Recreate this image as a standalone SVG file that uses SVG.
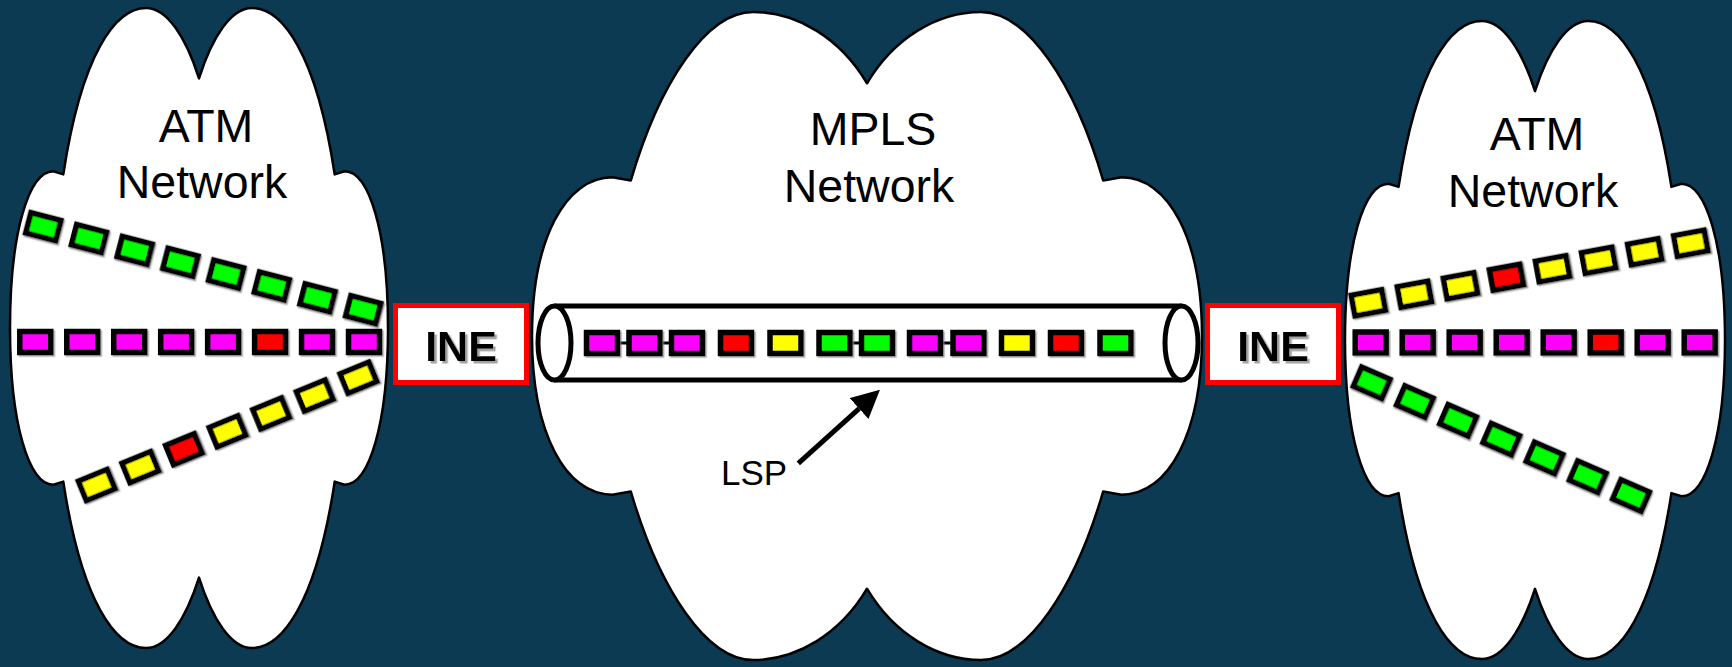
<svg xmlns="http://www.w3.org/2000/svg" width="1732" height="667" viewBox="0 0 1732 667">
  <defs>
    <style>
      .cloud{fill:#fff;stroke:#000;stroke-width:2.5;vector-effect:non-scaling-stroke;stroke-linejoin:round}
      .lbl{font-family:"Liberation Sans",Arial,sans-serif;font-size:46.5px;fill:#000;text-anchor:middle}
      .lsp{font-family:"Liberation Sans",Arial,sans-serif;font-size:35px;fill:#000}
      .pk{stroke:#000;stroke-width:5.5;filter:url(#sh)}
      .m{fill:#f0f}.g{fill:#0f0}.y{fill:#ff0}.r{fill:#f00}
      .ine rect{fill:#fff;stroke:#f00;stroke-width:5}
      .ine text{font-family:"Liberation Sans",Arial,sans-serif;font-weight:bold;font-size:43px;text-anchor:middle;fill:#000;filter:url(#tsh)}
      .tube{fill:#fff;stroke:#000;stroke-width:5}
      .tube-edge{fill:none;stroke:#000;stroke-width:5}
      .link{stroke:#000;stroke-width:3}
      .arrow{stroke:#000;stroke-width:5;fill:none}
    </style>
    <filter id="sh" x="-20%" y="-30%" width="150%" height="170%">
      <feDropShadow dx="1.5" dy="1.5" stdDeviation="0.4" flood-color="#808080" flood-opacity="0.7"/>
    </filter>
    <filter id="tsh" x="-10%" y="-10%" width="130%" height="140%">
      <feDropShadow dx="2.5" dy="2.5" stdDeviation="0.6" flood-color="#999" flood-opacity="0.9"/>
    </filter>
    <marker id="ah" markerUnits="userSpaceOnUse" markerWidth="28" markerHeight="28" viewBox="0 0 28 28" refX="0" refY="14" orient="auto">
      <path d="M0,0 L28,14 L0,28 Z" fill="#000"/>
    </marker>
    <!-- unit clouds, 200 x 200 around the origin -->
    <path id="cloudA" class="cloud" d="M0,-78 C-7,-91 -17,-100 -28,-100 C-44,-100 -62,-86 -71.8,-48 L-77,-49 C-90,-49 -100,-30 -100,0 C-100,30 -90,49 -77,49 L-71.8,48 C-62,86 -44,100 -28,100 C-17,100 -7,91 0,78 C7,91 17,100 28,100 C44,100 62,86 71.8,48 L77,49 C90,49 100,30 100,0 C100,-30 90,-49 77,-49 L71.8,-48 C62,-86 44,-100 28,-100 C17,-100 7,-91 0,-78 Z"/>
    <path id="cloudB" class="cloud" d="M0,-78 C-8,-92 -21,-100 -34,-100 C-48,-100 -62,-78 -70.5,-48 L-76,-49 C-90,-49 -100,-30 -100,0 C-100,30 -90,49 -76,49 L-70.5,48 C-62,78 -48,100 -34,100 C-21,100 -8,92 0,78 C8,92 21,100 34,100 C48,100 62,78 70.5,48 L76,49 C90,49 100,30 100,0 C100,-30 90,-49 76,-49 L70.5,-48 C62,-78 48,-100 34,-100 C21,-100 8,-92 0,-78 Z"/>
  </defs>

  <rect width="1732" height="667" fill="#0c3a53"/>

  <!-- left ATM network -->
  <g id="atm-left">
    <use href="#cloudA" transform="translate(199,328) scale(1.89,3.20)"/>
    <text class="lbl" x="206" y="142">ATM</text>
    <text class="lbl" x="202" y="198">Network</text>
    <g transform="translate(43.3,226.7) rotate(14.54)">
      <rect class="pk g" x="-15.5" y="-10.5" width="31" height="21"/>
      <rect class="pk g" x="31.72" y="-10.5" width="31" height="21"/>
      <rect class="pk g" x="78.94" y="-10.5" width="31" height="21"/>
      <rect class="pk g" x="126.16" y="-10.5" width="31" height="21"/>
      <rect class="pk g" x="173.38" y="-10.5" width="31" height="21"/>
      <rect class="pk g" x="220.6" y="-10.5" width="31" height="21"/>
      <rect class="pk g" x="267.82" y="-10.5" width="31" height="21"/>
      <rect class="pk g" x="315.04" y="-10.5" width="31" height="21"/>
    </g>
    <g transform="translate(35.3,342)">
      <rect class="pk m" x="-15.5" y="-10.5" width="31" height="21"/>
      <rect class="pk m" x="31.46" y="-10.5" width="31" height="21"/>
      <rect class="pk m" x="78.42" y="-10.5" width="31" height="21"/>
      <rect class="pk m" x="125.38" y="-10.5" width="31" height="21"/>
      <rect class="pk m" x="172.34" y="-10.5" width="31" height="21"/>
      <rect class="pk r" x="219.3" y="-10.5" width="31" height="21"/>
      <rect class="pk m" x="266.26" y="-10.5" width="31" height="21"/>
      <rect class="pk m" x="313.22" y="-10.5" width="31" height="21"/>
    </g>
    <g transform="translate(96.7,485) rotate(-22.3)">
      <rect class="pk y" x="-15.5" y="-10.5" width="31" height="21"/>
      <rect class="pk y" x="31.63" y="-10.5" width="31" height="21"/>
      <rect class="pk r" x="78.76" y="-10.5" width="31" height="21"/>
      <rect class="pk y" x="125.89" y="-10.5" width="31" height="21"/>
      <rect class="pk y" x="173.02" y="-10.5" width="31" height="21"/>
      <rect class="pk y" x="220.15" y="-10.5" width="31" height="21"/>
      <rect class="pk y" x="267.28" y="-10.5" width="31" height="21"/>
    </g>
  </g>

  <!-- MPLS core -->
  <g id="mpls">
    <use href="#cloudB" transform="translate(867,336) scale(3.35,3.24)"/>
    <text class="lbl" x="873" y="145">MPLS</text>
    <text class="lbl" x="869" y="202">Network</text>
  </g>

  <!-- label switched path with its packets -->
  <g id="lsp-tube">
    <rect x="554.5" y="306" width="627" height="74" fill="#fff"/>
    <path class="tube-edge" d="M554.5,306 H1181.5 M554.5,380 H1181.5"/>
    <ellipse class="tube" cx="554.5" cy="343" rx="16.5" ry="37"/>
    <ellipse class="tube" cx="1181.5" cy="343" rx="16.5" ry="37"/>
    <path class="link" d="M620,343 H627 M662.5,343 H669.5 M852.5,343 H859.5 M943,343 H950.5"/>
    <rect class="pk m" x="586.5" y="332.5" width="31" height="21"/>
    <rect class="pk m" x="629" y="332.5" width="31" height="21"/>
    <rect class="pk m" x="671.5" y="332.5" width="31" height="21"/>
    <rect class="pk r" x="720.5" y="332.5" width="31" height="21"/>
    <rect class="pk y" x="770" y="332.5" width="31" height="21"/>
    <rect class="pk g" x="819" y="332.5" width="31" height="21"/>
    <rect class="pk g" x="861.5" y="332.5" width="31" height="21"/>
    <rect class="pk m" x="909.5" y="332.5" width="31" height="21"/>
    <rect class="pk m" x="953" y="332.5" width="31" height="21"/>
    <rect class="pk y" x="1001.5" y="332.5" width="31" height="21"/>
    <rect class="pk r" x="1050.5" y="332.5" width="31" height="21"/>
    <rect class="pk g" x="1100" y="332.5" width="31" height="21"/>
  </g>

  <!-- right ATM network -->
  <g id="atm-right">
    <use href="#cloudA" transform="translate(1535,340) scale(1.90,3.19)"/>
    <text class="lbl" x="1537" y="150">ATM</text>
    <text class="lbl" x="1533" y="207">Network</text>
    <g transform="translate(1368.3,302.8) rotate(-10.46)">
      <rect class="pk y" x="-15.5" y="-10.5" width="31" height="21"/>
      <rect class="pk y" x="31.34" y="-10.5" width="31" height="21"/>
      <rect class="pk y" x="78.18" y="-10.5" width="31" height="21"/>
      <rect class="pk r" x="125.02" y="-10.5" width="31" height="21"/>
      <rect class="pk y" x="171.86" y="-10.5" width="31" height="21"/>
      <rect class="pk y" x="218.7" y="-10.5" width="31" height="21"/>
      <rect class="pk y" x="265.54" y="-10.5" width="31" height="21"/>
      <rect class="pk y" x="312.38" y="-10.5" width="31" height="21"/>
    </g>
    <g transform="translate(1370.7,342.5)">
      <rect class="pk m" x="-15.5" y="-10.5" width="31" height="21"/>
      <rect class="pk m" x="31.5" y="-10.5" width="31" height="21"/>
      <rect class="pk m" x="78.5" y="-10.5" width="31" height="21"/>
      <rect class="pk m" x="125.5" y="-10.5" width="31" height="21"/>
      <rect class="pk m" x="172.5" y="-10.5" width="31" height="21"/>
      <rect class="pk r" x="219.5" y="-10.5" width="31" height="21"/>
      <rect class="pk m" x="266.5" y="-10.5" width="31" height="21"/>
      <rect class="pk m" x="313.5" y="-10.5" width="31" height="21"/>
    </g>
    <g transform="translate(1371.7,382.8) rotate(23.49)">
      <rect class="pk g" x="-15.5" y="-10.5" width="31" height="21"/>
      <rect class="pk g" x="31.62" y="-10.5" width="31" height="21"/>
      <rect class="pk g" x="78.74" y="-10.5" width="31" height="21"/>
      <rect class="pk g" x="125.86" y="-10.5" width="31" height="21"/>
      <rect class="pk g" x="172.98" y="-10.5" width="31" height="21"/>
      <rect class="pk g" x="220.1" y="-10.5" width="31" height="21"/>
      <rect class="pk g" x="267.22" y="-10.5" width="31" height="21"/>
    </g>
  </g>

  <!-- interworking edges -->
  <g id="ine-left" class="ine">
    <rect x="395.5" y="305.5" width="131" height="77"/>
    <text x="461" y="360.5">INE</text>
  </g>
  <g id="ine-right" class="ine">
    <rect x="1207.5" y="305.5" width="131" height="77"/>
    <text x="1273" y="360.5">INE</text>
  </g>

  <!-- pointer to the LSP -->
  <g id="connectors">
    <path class="arrow" d="M798.3,463.3 L859.1,408.6" marker-end="url(#ah)"/>
  </g>
  <g id="lsp-label">
    <text class="lsp" x="721" y="485">LSP</text>
  </g>
</svg>
